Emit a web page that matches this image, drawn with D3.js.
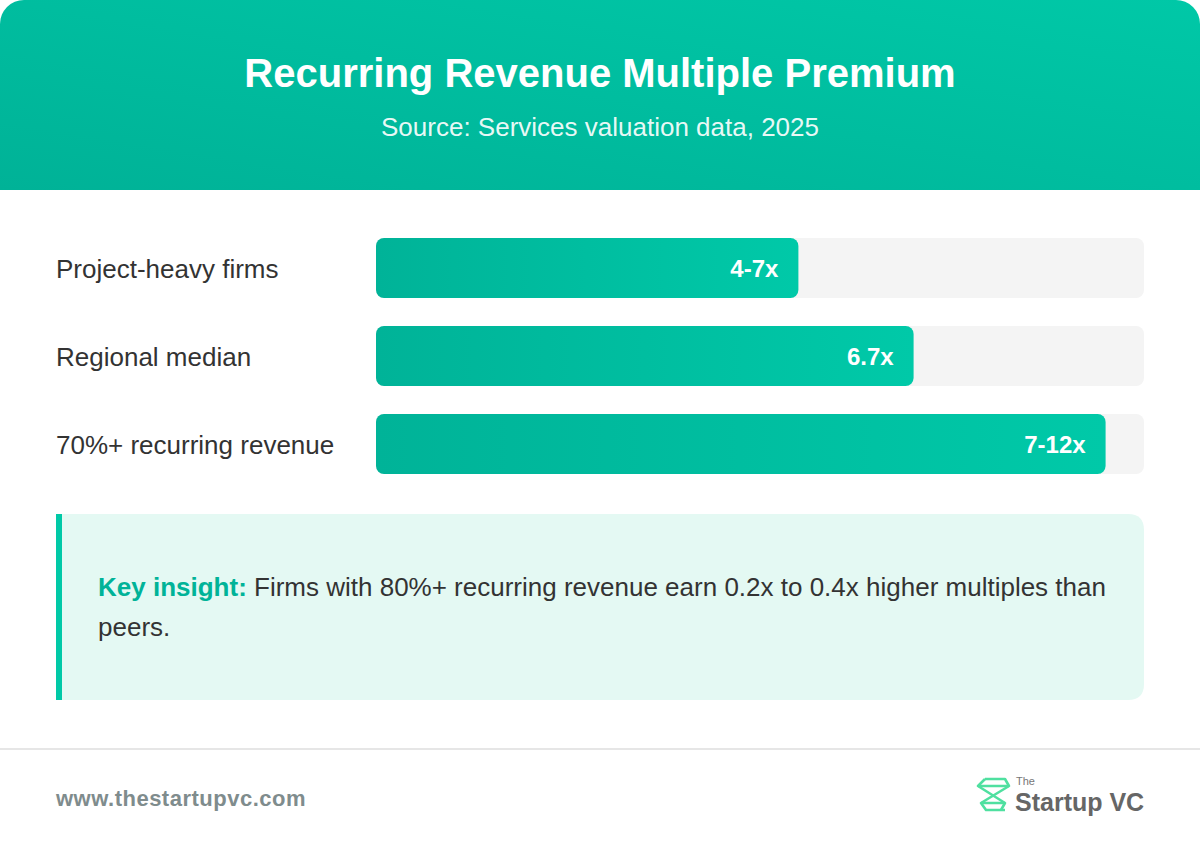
<!DOCTYPE html>
<html><head><meta charset="utf-8">
<script src="https://cdn.jsdelivr.net/npm/d3@7"></script>
<style>
html,body{margin:0;padding:0;background:#fff;}
svg{display:block;font-family:"Liberation Sans",Arial,Helvetica,sans-serif;}
</style></head>
<body>
<script>
const categories = ["Project-heavy firms", "Regional median", "70%+ recurring revenue"];
const values = [55, 70, 95];
const valueLabels = ["4-7x", "6.7x", "7-12x"];
const title = "Recurring Revenue Multiple Premium";
const subtitle = "Source: Services valuation data, 2025";
const insightLead = "Key insight:";
const insightLines = [" Firms with 80%+ recurring revenue earn 0.2x to 0.4x higher multiples than", "peers."];
const footerUrl = "www.thestartupvc.com";

const W = 1200, H = 848;
const svg = d3.select("body").append("svg").attr("width", W).attr("height", H);
const defs = svg.append("defs");

const hg = defs.append("linearGradient").attr("id","hg").attr("x1","0%").attr("y1","100%").attr("x2","100%").attr("y2","0%");
hg.append("stop").attr("offset","0%").attr("stop-color","#00b297");
hg.append("stop").attr("offset","100%").attr("stop-color","#00c8a7");
const bg = defs.append("linearGradient").attr("id","bg").attr("x1","0%").attr("y1","0%").attr("x2","100%").attr("y2","0%");
bg.append("stop").attr("offset","0%").attr("stop-color","#00b398");
bg.append("stop").attr("offset","100%").attr("stop-color","#00c9a8");
defs.append("clipPath").attr("id","card").append("rect").attr("width",W).attr("height",H).attr("rx",24);

const g = svg.append("g").attr("clip-path","url(#card)");
g.append("rect").attr("width",W).attr("height",H).attr("fill","#fff");
g.append("rect").attr("width",W).attr("height",190).attr("fill","url(#hg)");

svg.append("text").attr("x",W/2).attr("y",87).attr("text-anchor","middle")
  .attr("fill","#fff").attr("font-size",40).attr("font-weight","bold").text(title);
svg.append("text").attr("x",W/2).attr("y",136).attr("text-anchor","middle")
  .attr("fill","rgba(255,255,255,0.92)").attr("font-size",26).text(subtitle);

// bars
const x = d3.scaleLinear().domain([0,100]).range([376,1144]);
const yb = d3.scalePoint().domain(categories).range([238,414]);

const rows = svg.selectAll("g.row").data(categories).join("g").attr("class","row")
  .attr("transform", d => `translate(0,${yb(d)})`);
rows.append("text").attr("x",56).attr("y",40).attr("font-size",26).attr("fill","#333").text(d=>d);
rows.append("rect").attr("x",x(0)).attr("y",0).attr("width",x(100)-x(0)).attr("height",60)
  .attr("rx",8).attr("fill","#f4f4f4");
rows.append("rect").attr("x",x(0)).attr("y",0).attr("width",(d,i)=>x(values[i])-x(0)).attr("height",60)
  .attr("rx",8).attr("fill","url(#bg)");
rows.append("text").attr("x",(d,i)=>x(values[i])-20).attr("y",39).attr("text-anchor","end")
  .attr("font-size",24).attr("font-weight","bold").attr("fill","#fff").text((d,i)=>valueLabels[i]);

// insight box
const bx=56, by=514, bw=1088, bh=186, r=16;
svg.append("path").attr("d",`M${bx},${by} H${bx+bw-r} Q${bx+bw},${by} ${bx+bw},${by+r} V${by+bh-r} Q${bx+bw},${by+bh} ${bx+bw-r},${by+bh} H${bx} Z`)
  .attr("fill","#e4f9f3");
svg.append("rect").attr("x",bx).attr("y",by).attr("width",6).attr("height",bh).attr("fill","#00c9a7");
const t1 = svg.append("text").attr("x",98).attr("y",596).attr("font-size",26).attr("fill","#333");
t1.append("tspan").attr("font-weight","bold").attr("fill","#00b398").text(insightLead);
t1.append("tspan").text(insightLines[0]);
svg.append("text").attr("x",98).attr("y",636).attr("font-size",26).attr("fill","#333").text(insightLines[1]);

// footer
svg.append("line").attr("x1",0).attr("x2",W).attr("y1",749).attr("y2",749).attr("stroke","#e6e6e6").attr("stroke-width",2);
svg.append("text").attr("x",56).attr("y",806).attr("font-size",22).attr("font-weight","bold")
  .attr("letter-spacing","0.5").attr("fill","#7f8c8d").text(footerUrl);

// logo
const lg = svg.append("g").attr("fill","none").attr("stroke","#4fe0a0").attr("stroke-width",2.6).attr("stroke-linejoin","round");
lg.append("path").attr("d","M985,779 H1005 L1009,786 L981,803 L986,810 H1005");
lg.append("path").attr("d","M985,779 L978,786 L1005,803 L1001,810");
lg.append("path").attr("d","M978,786 H1009 M981,803 H1005");
svg.append("text").attr("x",1016).attr("y",785).attr("font-size",11).attr("fill","#777").text("The");
svg.append("text").attr("x",1015).attr("y",811).attr("font-size",25).attr("font-weight","bold").attr("fill","#666")
  .text("Startup VC");
</script>
</body></html>
